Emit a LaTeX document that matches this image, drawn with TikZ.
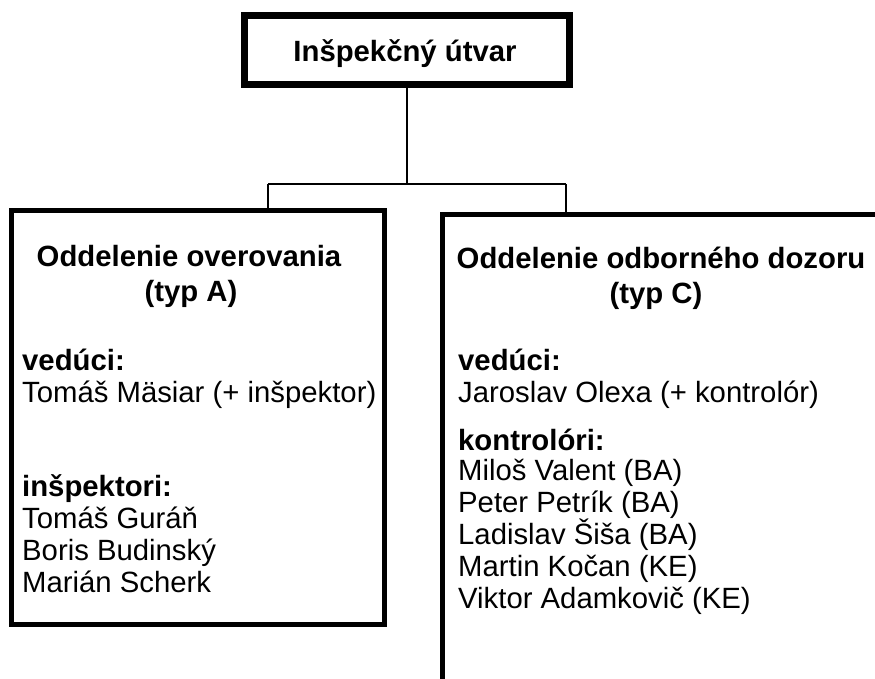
\documentclass[tikz,border=0pt]{standalone}
\usepackage{fontspec}
\setmainfont{Liberation Sans}
\begin{document}
\begin{tikzpicture}[x=1pt,y=-1pt,
  every node/.style={font=\fontsize{29.3}{32}\selectfont},
  topbox/.style={draw,line width=7pt,minimum width=325pt,minimum height=69pt,inner sep=0pt},
  deptbox/.style={draw,line width=5pt,inner sep=0pt},
  conn/.style={line width=1.3pt},
  txt/.style={anchor=base west,inner sep=0pt},
  btxt/.style={anchor=base west,inner sep=0pt,font=\fontsize{29.3}{32}\selectfont\bfseries},
  head/.style={anchor=base,inner sep=0pt,font=\fontsize{29.3}{32}\selectfont\bfseries}]
\useasboundingbox (0,0) rectangle (875,679);
% boxes
\node[topbox] (top) at (407,50) {};
\node[head] (toptxt) at (405,62) {Inšpekčný útvar};
\node[deptbox,minimum width=373pt,minimum height=414pt] (lbox) at (198,417.5) {};
\node[deptbox,minimum width=600pt,minimum height=600pt,anchor=north west] (rbox) at (440,212) {};
% connectors
\coordinate (j) at (407,184);
\coordinate (jl) at (268,184);
\coordinate (jr) at (566,184);
\draw[conn] (top.south) -- (j);
\draw[conn] (jl) -- (jr);
\draw[conn] (jl) -- (jl |- lbox.north);
\draw[conn] (jr) -- (jr |- rbox.north);
% left department
\node[head] (lt1) at (189,266) {Oddelenie overovania};
\node[head] (lt2) at (191,301) {(typ A)};
\node[btxt] (lv) at (22,370) {vedúci:};
\node[txt] (lv1) at (22,402) {Tomáš Mäsiar (+ inšpektor)};
\node[btxt] (li) at (22,496) {inšpektori:};
\node[txt] (li1) at (22,528) {Tomáš Guráň};
\node[txt] (li2) at (22,560) {Boris Budinský};
\node[txt] (li3) at (22,592) {Marián Scherk};
% right department
\node[head] (rt1) at (661,268) {Oddelenie odborného dozoru};
\node[head] (rt2) at (656,303) {(typ C)};
\node[btxt] (rv) at (458,370) {vedúci:};
\node[txt] (rv1) at (458,402) {Jaroslav Olexa (+ kontrolór)};
\node[btxt] (rk) at (458,450) {kontrolóri:};
\node[txt] (rk1) at (458,480) {Miloš Valent (BA)};
\node[txt] (rk2) at (458,512) {Peter Petrík (BA)};
\node[txt] (rk3) at (458,544) {Ladislav Šiša (BA)};
\node[txt] (rk4) at (458,576) {Martin Kočan (KE)};
\node[txt] (rk5) at (458,608) {Viktor Adamkovič (KE)};
\end{tikzpicture}
\end{document}
